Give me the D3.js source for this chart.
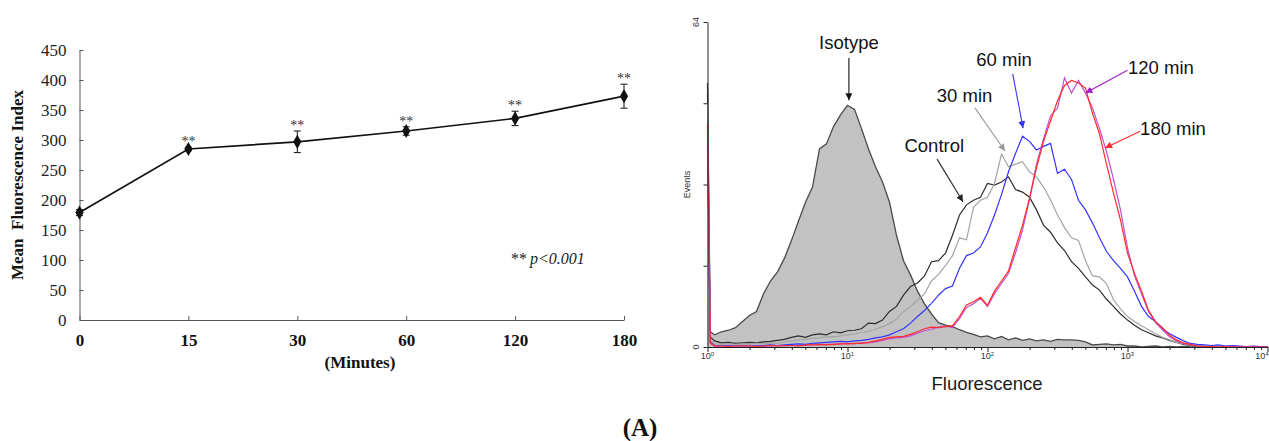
<!DOCTYPE html>
<html><head><meta charset="utf-8">
<script src="https://cdn.jsdelivr.net/npm/d3@7"></script>
<style>body{margin:0;background:#fff}svg{display:block}</style>
</head><body>
<svg id="c" width="1269" height="441"></svg>
<script>
// ---------- Left panel data ----------
const minutes = ["0", "15", "30", "60", "120", "180"];
const mfiMean = [179, 285, 297, 315, 336, 373];
const mfiErr = [5, 3, 18, 7, 12, 20];
const mfiSig = ["", "**", "**", "**", "**", "**"];
const mfiTicks = [0, 50, 100, 150, 200, 250, 300, 350, 400, 450];

// ---------- Right panel data (histogram, log10 channel position) ----------
const channelLog = [0, 0.02, 0.05, 0.10, 0.15, 0.20, 0.25, 0.30, 0.35, 0.40, 0.45, 0.50, 0.55, 0.60, 0.65, 0.70, 0.75, 0.80, 0.85, 0.90, 0.95,
  1.00, 1.05, 1.10, 1.15, 1.20, 1.25, 1.30, 1.35, 1.40, 1.45, 1.50, 1.55, 1.60, 1.65, 1.70, 1.75, 1.80, 1.85, 1.90, 1.95,
  2.00, 2.05, 2.10, 2.15, 2.20, 2.25, 2.30, 2.35, 2.40, 2.45, 2.50, 2.55, 2.60, 2.65, 2.70, 2.75, 2.80, 2.85, 2.90, 2.95,
  3.00, 3.05, 3.10, 3.15, 3.20, 3.25, 3.30, 3.35, 3.40, 3.45, 3.50, 3.55, 3.60, 3.65, 3.70, 3.75, 3.80, 3.85, 3.90, 3.95, 4.00];
const isotype = [52, 3.0, 2.4, 3.0, 3.3, 3.8, 5.0, 6.2, 7.0, 10.5, 13.0, 14.8, 17.5, 21.0, 24.8, 28.5, 31.5, 39.0, 40.0, 43.4, 45.7,
  47.6, 46.8, 43.0, 39.0, 35.5, 32.5, 28.5, 22.0, 17.0, 14.2, 11.0, 8.5, 6.5, 4.8, 4.3, 4.0, 3.4, 2.9, 2.5, 2.0,
  2.2, 1.6, 2.1, 1.4, 1.8, 1.3, 1.6, 1.2, 1.4, 1.1, 1.5, 1.4, 1.4, 1.3, 1.0, 0.4, 0.5, 0.6, 0.4, 0.5,
  0.2, 0.2, 0.0, 0.1, 0.2, 0.0, 0.1, 0.0, 0.1, 0.0, 0.0, 0.1, 0.0, 0.0, 0.1, 0.0, 0.0, 0.0, 0.0, 0.0, 0.0];
const control = [50, 2.0, 1.2, 0.8, 0.9, 0.7, 0.8, 0.9, 0.8, 1.0, 1.1, 1.3, 1.5, 1.9, 2.2, 1.9, 2.4, 2.6, 2.4, 3.0, 2.8,
  3.2, 3.3, 3.6, 4.7, 4.6, 5.3, 7.0, 8.0, 10.2, 11.9, 12.6, 14.0, 16.8, 17.0, 18.5, 22.0, 26.0, 28.0, 28.9, 29.5,
  32.2, 31.9, 32.5, 33.5, 31.0, 30.5, 29.5, 27.0, 24.0, 22.6, 20.5, 19.0, 16.8, 15.5, 13.8, 12.2, 11.2, 9.4, 8.0, 6.5,
  5.3, 4.3, 3.4, 2.8, 2.2, 1.8, 1.3, 0.9, 0.5, 0.3, 0.2, 0.1, 0.2, 0.1, 0.1, 0.0, 0.1, 0.0, 0.0, 0.1, 0.0];
const min30 = [48, 1.5, 0.6, 0.5, 0.6, 0.5, 0.6, 0.5, 0.7, 0.6, 0.8, 0.7, 1.0, 1.2, 1.4, 1.5, 1.7, 1.8, 2.0, 2.0, 2.2,
  2.4, 2.6, 2.9, 3.1, 3.5, 4.0, 4.6, 5.5, 7.0, 7.9, 9.2, 10.5, 13.0, 14.3, 16.0, 18.0, 21.5, 21.1, 27.5, 28.9,
  29.5, 32.2, 38.0, 35.5, 36.0, 36.5, 34.5, 33.5, 31.5, 29.0, 26.0, 23.5, 21.5, 21.0, 17.0, 14.0, 13.8, 12.5, 9.3, 7.5,
  6.0, 5.0, 4.2, 3.4, 2.6, 1.9, 1.4, 0.9, 0.6, 0.4, 0.3, 0.2, 0.1, 0.2, 0.1, 0.1, 0.0, 0.1, 0.0, 0.0, 0.0];
const min60 = [42, 1.0, 0.3, 0.2, 0.3, 0.2, 0.3, 0.2, 0.3, 0.3, 0.4, 0.3, 0.4, 0.5, 0.6, 0.5, 0.7, 0.8, 0.9, 1.0, 1.1,
  1.0, 1.2, 1.3, 1.5, 1.8, 2.0, 2.4, 3.0, 3.6, 4.7, 6.0, 7.2, 8.6, 10.2, 11.5, 12.0, 15.5, 18.0, 18.5, 19.7,
  22.5, 26.0, 30.0, 34.5, 38.1, 41.5, 40.5, 38.8, 39.5, 40.1, 34.2, 35.0, 33.0, 28.9, 27.0, 24.4, 21.5, 18.8, 17.0, 15.5,
  13.8, 11.0, 8.0, 6.0, 5.0, 3.6, 2.6, 1.9, 1.2, 0.7, 0.5, 0.4, 0.3, 0.4, 0.2, 0.3, 0.2, 0.1, 0.2, 0.1, 0.1];
const min120 = [40, 0.7, 0.2, 0.1, 0.2, 0.1, 0.2, 0.2, 0.2, 0.1, 0.2, 0.3, 0.2, 0.3, 0.3, 0.3, 0.5, 0.4, 0.5, 0.5, 0.6,
  0.7, 0.6, 0.8, 0.8, 1.0, 1.3, 1.6, 1.8, 1.9, 2.2, 2.7, 3.2, 3.5, 3.9, 4.1, 3.8, 5.6, 7.8, 8.5, 9.6,
  8.0, 10.5, 12.5, 14.5, 18.5, 23.0, 29.0, 36.0, 41.0, 45.5, 47.0, 53.0, 50.0, 52.5, 50.0, 47.0, 43.0, 38.5, 33.0, 27.0,
  19.5, 14.0, 10.5, 7.0, 4.8, 3.4, 2.0, 1.2, 0.7, 0.4, 0.2, 0.1, 0.1, 0.0, 0.0, 0.1, 0.0, 0.0, 0.0, 0.0, 0.0];
const min180 = [44, 0.8, 0.2, 0.2, 0.1, 0.2, 0.2, 0.2, 0.1, 0.2, 0.3, 0.2, 0.3, 0.3, 0.2, 0.4, 0.4, 0.5, 0.4, 0.5, 0.6,
  0.6, 0.7, 0.7, 0.9, 1.2, 1.5, 1.9, 2.0, 2.1, 2.5, 3.0, 3.6, 3.9, 3.8, 4.0, 4.2, 6.0, 8.3, 8.9, 9.8,
  8.2, 11.0, 13.0, 15.0, 19.5, 24.0, 29.3, 35.3, 40.5, 44.5, 48.5, 51.5, 52.5, 52.0, 51.0, 46.0, 42.0, 36.0, 30.3, 25.0,
  18.5, 14.5, 11.0, 7.2, 5.0, 3.8, 2.3, 1.4, 0.8, 0.5, 0.2, 0.1, 0.1, 0.0, 0.1, 0.0, 0.0, 0.0, 0.0, 0.0, 0.0];
const eventTicks = [0, 16, 32, 48, 64];
const eventLabels = ["0", "", "", "", "64"];
const decadeExp = [0, 1, 2, 3, 4];

const svg = d3.select("#c");
const serif = "'Liberation Serif', 'Times New Roman', serif";
const sans = "'Liberation Sans', Arial, sans-serif";

// =============== LEFT PANEL ===============
const xL = d3.scalePoint().domain(minutes).range([79.5, 624]);
const yL = d3.scaleLinear().domain([0, 450]).range([320, 50]);

const gy = svg.append("g").attr("transform", "translate(79.5,0)")
  .call(d3.axisLeft(yL).tickValues(mfiTicks).tickSize(-4).tickSizeOuter(0).tickPadding(13));
gy.selectAll("text").attr("font-family", serif).attr("font-size", 17).attr("fill", "#222");
gy.selectAll("line,path").attr("stroke", "#555");

const gx = svg.append("g").attr("transform", "translate(0,320)")
  .call(d3.axisBottom(xL).tickSize(-4).tickSizeOuter(0).tickPadding(14));
gx.selectAll("text").attr("font-family", serif).attr("font-size", 17).attr("font-weight", "bold").attr("fill", "#111");
gx.selectAll("line,path").attr("stroke", "#555");

// line
svg.append("path")
  .datum(mfiMean)
  .attr("fill", "none").attr("stroke", "#111").attr("stroke-width", 1.7)
  .attr("d", d3.line().x((d, i) => xL(minutes[i])).y(d => yL(d)));

// error bars
const eb = svg.append("g").attr("stroke", "#111").attr("stroke-width", 1);
mfiMean.forEach((m, i) => {
  const x = xL(minutes[i]);
  eb.append("line").attr("x1", x).attr("x2", x).attr("y1", yL(m - mfiErr[i])).attr("y2", yL(m + mfiErr[i]));
  eb.append("line").attr("x1", x - 3.5).attr("x2", x + 3.5).attr("y1", yL(m - mfiErr[i])).attr("y2", yL(m - mfiErr[i]));
  eb.append("line").attr("x1", x - 3.5).attr("x2", x + 3.5).attr("y1", yL(m + mfiErr[i])).attr("y2", yL(m + mfiErr[i]));
});

// markers
svg.append("g").selectAll("path").data(mfiMean).join("path")
  .attr("transform", (d, i) => `translate(${xL(minutes[i])},${yL(d)})`)
  .attr("d", d3.symbol(d3.symbolDiamond, 58))
  .attr("fill", "#111");

// significance stars
svg.append("g").selectAll("text").data(mfiMean).join("text")
  .attr("x", (d, i) => xL(minutes[i]))
  .attr("y", (d, i) => yL(d + mfiErr[i]) - 1)
  .attr("text-anchor", "middle")
  .attr("font-family", serif).attr("font-size", 14).attr("fill", "#333")
  .text((d, i) => mfiSig[i]);

// p-value note
const pv = svg.append("text").attr("x", 511).attr("y", 264)
  .attr("font-family", serif).attr("font-size", 16).attr("fill", "#222");
pv.append("tspan").text("**");
pv.append("tspan").attr("font-style", "italic").attr("dx", 3).text("p<0.001");

// axis titles
svg.append("text")
  .attr("transform", "translate(23,185) rotate(-90)")
  .attr("text-anchor", "middle").style("white-space", "pre")
  .attr("font-family", serif).attr("font-size", 17).attr("font-weight", "bold").attr("fill", "#111")
  .text("Mean  Fluorescence Index");
svg.append("text").attr("x", 360).attr("y", 368).attr("text-anchor", "middle")
  .attr("font-family", serif).attr("font-size", 17).attr("font-weight", "bold").attr("fill", "#111")
  .text("(Minutes)");

// panel label
svg.append("text").attr("x", 640).attr("y", 436).attr("text-anchor", "middle")
  .attr("font-family", serif).attr("font-size", 25).attr("font-weight", "bold").attr("fill", "#111")
  .text("(A)");

// =============== RIGHT PANEL ===============
const xR = d3.scaleLog().domain([1, 10000]).range([707.5, 1267.5]);
const yR = d3.scaleLinear().domain([0, 64]).range([347, 22]);
const px = i => xR(Math.pow(10, channelLog[i]));

// isotype filled histogram
svg.append("path").datum(isotype)
  .attr("fill", "#c2c2c2").attr("stroke", "none")
  .attr("d", d3.area().x((d, i) => px(i)).y0(yR(0)).y1(d => yR(d)));
svg.append("path").datum(isotype)
  .attr("fill", "none").attr("stroke", "#4a4a4a").attr("stroke-width", 1.3)
  .attr("d", d3.line().x((d, i) => px(i)).y(d => yR(d)));

const curves = [
  { data: control, color: "#2e2e2e" },
  { data: min30, color: "#a4a4a4" },
  { data: min60, color: "#3434ff" },
  { data: min120, color: "#c24ed2" },
  { data: min180, color: "#ff2a2a" }
];
curves.forEach(c => {
  svg.append("path").datum(c.data)
    .attr("fill", "none").attr("stroke", c.color).attr("stroke-width", 1.2)
    .attr("d", d3.line().x((d, i) => px(i)).y(d => yR(d)));
});

// y axis
const gyr = svg.append("g").attr("transform", "translate(707.5,0)")
  .call(d3.axisLeft(yR).tickValues(eventTicks).tickSize(4).tickSizeOuter(0).tickFormat(""));
gyr.selectAll("line,path").attr("stroke", "#222");
svg.append("g").selectAll("text").data(eventTicks).join("text")
  .attr("transform", d => `translate(699,${yR(d)}) rotate(-90)`)
  .attr("text-anchor", "middle")
  .attr("font-family", sans).attr("font-size", 9).attr("fill", "#333")
  .text((d, i) => eventLabels[i]);
svg.append("text").attr("transform", `translate(690,${yR(32)}) rotate(-90)`)
  .attr("text-anchor", "middle").attr("font-family", sans).attr("font-size", 9).attr("fill", "#333")
  .text("Events");

// x axis (log)
const minorVals = [];
decadeExp.slice(0, 4).forEach(e => { for (let k = 1; k <= 9; k++) minorVals.push(k * Math.pow(10, e)); });
minorVals.push(10000);
const gxr = svg.append("g").attr("transform", "translate(0,347)")
  .call(d3.axisBottom(xR).tickValues(minorVals).tickSize(3).tickSizeOuter(0).tickFormat(""));
gxr.selectAll("line,path").attr("stroke", "#222");
gxr.selectAll(".tick line").attr("y2", d => (Math.log10(d) % 1 === 0 ? 5 : 3));
const lab = svg.append("g").selectAll("text").data(decadeExp).join("text")
  .attr("x", d => xR(Math.pow(10, d)) + (d === 4 ? 1 : 0))
  .attr("y", 359)
  .attr("text-anchor", d => (d === 4 ? "end" : "middle"))
  .attr("font-family", sans).attr("font-size", 9).attr("fill", "#333");
lab.append("tspan").text("10");
lab.append("tspan").attr("dy", -3).attr("font-size", 6).text(d => d);

svg.append("text").attr("x", 987).attr("y", 390).attr("text-anchor", "middle")
  .attr("font-family", sans).attr("font-size", 18.5).attr("fill", "#1a1a1a")
  .text("Fluorescence");

// annotations with arrows (positions given in data space: log10 channel, events)
const defs = svg.append("defs");
const annotations = [
  { label: "Isotype", color: "#111", tx: 1.01, ty: 58.7, anchor: "middle", ax: 1.01, ay: 56.9, bx: 1.01, by: 48.6 },
  { label: "Control", color: "#222", tx: 1.62, ty: 38.4, anchor: "middle", ax: 1.64, ay: 37.0, bx: 1.825, by: 28.6 },
  { label: "30 min", color: "#999", tx: 1.836, ty: 48.2, anchor: "middle", ax: 1.91, ay: 47.1, bx: 2.125, by: 38.6 },
  { label: "60 min", color: "#3434ff", tx: 2.118, ty: 55.3, anchor: "middle", ax: 2.18, ay: 53.8, bx: 2.254, by: 43.1 },
  { label: "120 min", color: "#a020c8", tx: 3.004, ty: 53.8, anchor: "start", ax: 3.0, ay: 54.5, bx: 2.70, by: 50.0 },
  { label: "180 min", color: "#ff2a2a", tx: 3.09, ty: 41.7, anchor: "start", ax: 3.09, ay: 42.5, bx: 2.84, by: 39.2 }
];
annotations.forEach((a, i) => {
  defs.append("marker").attr("id", "ah" + i)
    .attr("viewBox", "0 0 10 10").attr("refX", 10).attr("refY", 5)
    .attr("markerWidth", 7).attr("markerHeight", 7).attr("markerUnits", "userSpaceOnUse")
    .attr("orient", "auto")
    .append("path").attr("d", "M0,0L10,5L0,10z").attr("fill", a.color);
  svg.append("line")
    .attr("x1", xR(Math.pow(10, a.ax))).attr("y1", yR(a.ay))
    .attr("x2", xR(Math.pow(10, a.bx))).attr("y2", yR(a.by))
    .attr("stroke", a.color).attr("stroke-width", 1.1)
    .attr("marker-end", `url(#ah${i})`);
  svg.append("text")
    .attr("x", xR(Math.pow(10, a.tx))).attr("y", yR(a.ty))
    .attr("text-anchor", a.anchor)
    .attr("font-family", sans).attr("font-size", 18.5).attr("fill", "#111")
    .text(a.label);
});
</script>
</body></html>
